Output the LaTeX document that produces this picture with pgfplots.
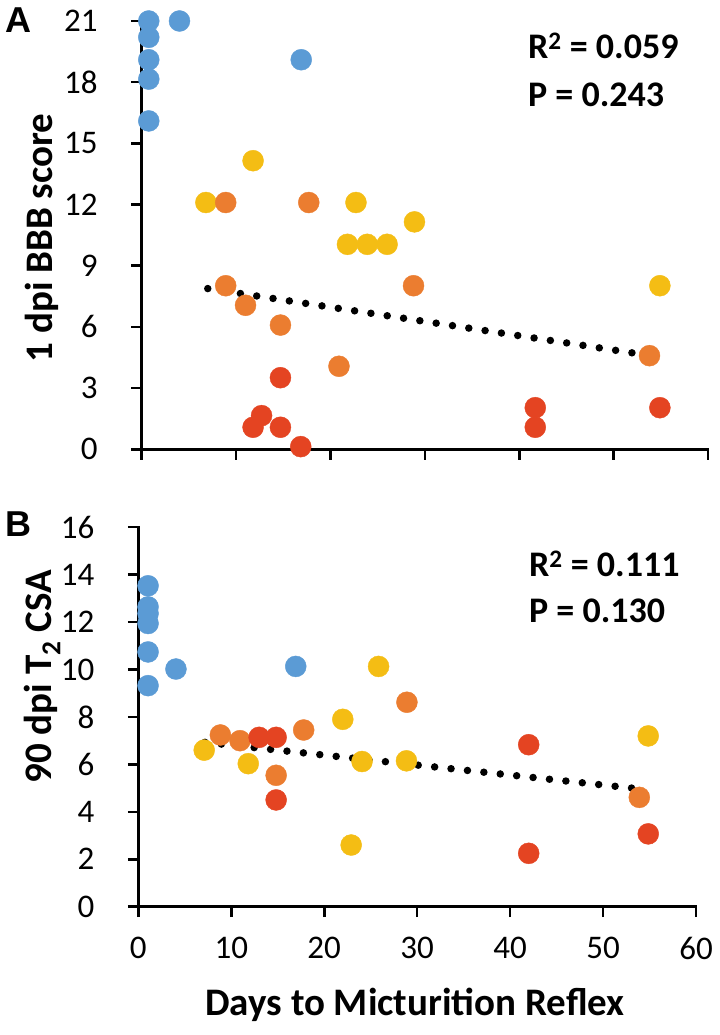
\documentclass[border=0pt]{standalone}
\usepackage{pgfplots}
\pgfplotsset{compat=1.18}
\usepackage{fontspec}
\setmainfont{Carlito}
\newfontfamily\arialfont{Liberation Sans}
\definecolor{cblue}{HTML}{5B9BD5}
\definecolor{cyellow}{HTML}{F4BD14}
\definecolor{corange}{HTML}{EB7D30}
\definecolor{cred}{HTML}{E44422}
\newcommand{\ticksize}{\fontsize{33bp}{38bp}\selectfont}
\newcommand{\labsize}{\fontsize{39bp}{44bp}\selectfont\bfseries}
\newcommand{\statsize}{\fontsize{36bp}{42bp}\selectfont\bfseries}
\pgfplotsset{
 myax/.style={
  scale only axis,
  axis x line*=bottom, axis y line*=left,
  axis line style={line width=2.6bp, line cap=rect},
  major tick style={line width=2.6bp, black},
  tick align=outside,
  major tick length=10.5bp,
  xmin=0, xmax=60, xtick={0,10,...,60},
  tick label style={font=\ticksize},
  yticklabel style={xshift=-30bp},
  xticklabel style={yshift=-16bp},
  /pgf/number format/assume math mode=true,
  clip=false,
 },
 dots/.style={only marks, mark=*, mark size=10.5bp},
 trend/.style={black, line width=7.5bp, line cap=round, dash pattern=on 0pt off 16.5bp},
}
\begin{document}
\begin{tikzpicture}
\useasboundingbox (0,0) rectangle (720bp,1035bp);
% Panel A
\begin{axis}[myax, at={(141.7bp,585.7bp)}, anchor=south west,
  width=566.3bp, height=428.3bp,
  ymin=0, ymax=21, ytick={0,3,...,21}, xticklabels={}]
\addplot[dots, color=cblue] coordinates {(0.75,21) (4.0,21) (0.75,20.2) (0.75,19.1) (0.75,18.15) (0.75,16.1) (16.9,19.1)};
\addplot[dots, color=cyellow] coordinates {(11.8,14.15) (6.8,12.1) (22.7,12.1) (28.9,11.15) (21.8,10.05) (23.9,10.05) (26.0,10.05) (54.9,8.02)};
\addplot[dots, color=corange] coordinates {(8.9,12.1) (17.7,12.1) (8.9,8.02) (11.0,7.06) (14.7,6.09) (20.9,4.07) (28.8,8.02) (53.8,4.59)};
\addplot[dots, color=cred] coordinates {(14.7,3.51) (12.7,1.65) (11.8,1.08) (14.7,1.08) (16.85,0.13) (41.7,2.04) (41.7,1.08) (54.9,2.04)};
\addplot[trend] coordinates {(7.0,7.88) (53.95,4.59)};
\end{axis}
% Panel B
\begin{axis}[myax, at={(138.3bp,128.3bp)}, anchor=south west,
  width=557.7bp, height=379.5bp,
  ymin=0, ymax=16, ytick={0,2,...,16}]
\addplot[dots, color=cblue] coordinates {(1.05,13.53) (1.05,12.64) (1.05,12.36) (1.05,11.94) (1.05,10.74) (4.05,10.02) (1.05,9.32) (16.94,10.13)};
\addplot[dots, color=cyellow] coordinates {(25.85,10.13) (22.0,7.9) (7.09,6.6) (11.83,6.03) (24.07,6.12) (28.85,6.15) (22.9,2.6) (54.86,7.2)};
\addplot[dots, color=corange] coordinates {(28.9,8.62) (8.83,7.24) (10.94,7.0) (14.83,5.54) (17.79,7.45) (53.9,4.61)};
\addplot[dots, color=cred] coordinates {(13.0,7.14) (14.83,7.14) (14.83,4.5) (42.0,6.83) (42.0,2.25) (54.86,3.07)};
\addplot[trend] coordinates {(7.17,6.93) (53.6,4.98)};
\end{axis}
% texts
\node[font=\arialfont\bfseries\fontsize{36bp}{40bp}\selectfont, inner sep=0pt] at (18bp,1015bp) {A};
\node[font=\arialfont\bfseries\fontsize{36bp}{40bp}\selectfont, inner sep=0pt] at (18bp,511bp) {B};
\node[font=\labsize, rotate=90, inner sep=0pt] at (42bp,797bp) {1 dpi BBB score};
\node[font=\labsize, rotate=90, inner sep=0pt] at (42bp,358bp) {90 dpi T\textsubscript{2} CSA};
\node[font=\labsize, inner sep=0pt] at (415bp,30bp) {Days to Micturition Reflex};
\node[font=\statsize, anchor=base west, inner sep=0pt] at (528bp,976bp) {R\textsuperscript{2} = 0.059};
\node[font=\statsize, anchor=base west, inner sep=0pt] at (528bp,928bp) {P = 0.243};
\node[font=\statsize, anchor=base west, inner sep=0pt] at (529bp,458bp) {R\textsuperscript{2} = 0.111};
\node[font=\statsize, anchor=base west, inner sep=0pt] at (529bp,412bp) {P = 0.130};
\end{tikzpicture}
\end{document}
